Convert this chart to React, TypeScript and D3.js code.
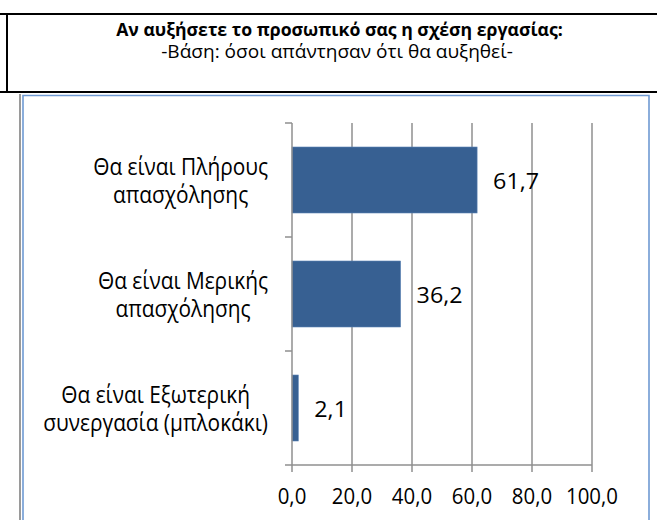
import React, { useEffect, useRef } from "react";
import * as d3 from "d3";

const title = "Αν αυξήσετε το προσωπικό σας η σχέση εργασίας:";
const subtitle = "-Βάση: όσοι απάντησαν ότι θα αυξηθεί-";
const categories: string[][] = [
  ["Θα είναι Πλήρους", "απασχόλησης"],
  ["Θα είναι Μερικής", "απασχόλησης"],
  ["Θα είναι Εξωτερική", "συνεργασία (μπλοκάκι)"],
];
const values: number[] = [61.7, 36.2, 2.1];
const xTicks: number[] = [0, 20, 40, 60, 80, 100];

const W = 657;
const H = 520;
const FONT = "'Open Sans', 'Noto Sans', 'DejaVu Sans', sans-serif";
const fmt = (v: number) => v.toFixed(1).replace(".", ",");

// horizontal scale so that `text` at `size` spans `target` px
function fitScale(svg: any, text: string, weight: string, size: number, target: number): number {
  const t = svg.append("text").attr("font-family", FONT).attr("font-size", size).attr("font-weight", weight).text(text);
  const w = (t.node() as SVGTextElement).getComputedTextLength();
  t.remove();
  return w > 0 ? target / w : 1;
}

function label(parent: any, x: number, y: number, sx: number, text: string, size: number, weight: string, anchor: string) {
  parent.append("g").attr("transform", `translate(${x},${y}) scale(${sx},1)`)
    .append("text").attr("text-anchor", anchor)
    .attr("font-family", FONT).attr("font-size", size).attr("font-weight", weight)
    .attr("fill", "#000").text(text);
}

export default function App() {
  const ref = useRef<SVGSVGElement | null>(null);

  useEffect(() => {
    const svg = d3.select(ref.current);
    svg.selectAll("*").remove();

    // Header frame (black lines)
    svg.append("line").attr("x1", 0).attr("x2", W).attr("y1", 14).attr("y2", 14).attr("stroke", "#000").attr("stroke-width", 2);
    svg.append("line").attr("x1", 0).attr("x2", W).attr("y1", 92).attr("y2", 92).attr("stroke", "#000").attr("stroke-width", 2);
    svg.append("line").attr("x1", 7).attr("x2", 7).attr("y1", 13).attr("y2", 93).attr("stroke", "#000").attr("stroke-width", 2);

    // Chart frame
    svg.append("line").attr("x1", 20).attr("x2", 20).attr("y1", 94).attr("y2", H).attr("stroke", "#9a9a9a").attr("stroke-width", 2);
    svg.append("path")
      .attr("d", `M23,${H} L23,95.5 L649,95.5 L649,${H}`)
      .attr("fill", "none").attr("stroke", "#6f9ad3").attr("stroke-width", 1.6);

    // Titles
    const tS = 18.5;
    label(svg, 339.5, 35.5, fitScale(svg, title, "bold", tS, 447), title, tS, "bold", "middle");
    const sS = 18.5;
    label(svg, 337, 58, fitScale(svg, subtitle, "normal", sS, 352), subtitle, sS, "normal", "middle");

    const x = d3.scaleLinear().domain([0, 100]).range([292, 592]);
    const y = d3.scaleBand<number>().domain(values.map((_, i) => i)).range([123, 465])
      .paddingInner(48 / 114).paddingOuter(24 / 114);
    const step = y.step();
    const [y0, y1] = y.range();

    const grid = "#8f8f8f";
    // Vertical gridlines
    svg.append("g").selectAll("line").data(xTicks.slice(1)).join("line")
      .attr("x1", (d) => x(d)).attr("x2", (d) => x(d)).attr("y1", y0).attr("y2", y1 + 7)
      .attr("stroke", grid).attr("stroke-width", 1.5);

    // Bars
    svg.append("g").selectAll("rect").data(values).join("rect")
      .attr("x", x(0)).attr("y", (_, i) => y(i) as number)
      .attr("width", (d) => x(d) - x(0)).attr("height", y.bandwidth())
      .attr("fill", "#376092").attr("stroke", "#5b83b5").attr("stroke-width", 0.6);

    // Y axis
    svg.append("line").attr("x1", x(0)).attr("x2", x(0)).attr("y1", y0).attr("y2", y1 + 7)
      .attr("stroke", grid).attr("stroke-width", 1.5);
    svg.append("g").selectAll("line").data(d3.range(values.length + 1)).join("line")
      .attr("x1", x(0) - 7).attr("x2", x(0)).attr("y1", (i) => y0 + i * step).attr("y2", (i) => y0 + i * step)
      .attr("stroke", grid).attr("stroke-width", 1.5);
    // X axis
    svg.append("line").attr("x1", x(0)).attr("x2", x(100)).attr("y1", y1).attr("y2", y1)
      .attr("stroke", grid).attr("stroke-width", 1.5);

    // Tick labels
    const tickS = 21;
    const tickSx = fitScale(svg, "100,0", "normal", tickS, 52);
    const tg = svg.append("g");
    xTicks.forEach((d) => label(tg, x(d), 504, tickSx, fmt(d), tickS, "normal", "middle"));

    // Value labels
    const valS = 22.5;
    const valSx = fitScale(svg, "61,7", "normal", valS, 46);
    const vg = svg.append("g");
    values.forEach((d, i) =>
      label(vg, x(d) + 16, (y(i) as number) + y.bandwidth() / 2 + 9, valSx, fmt(d), valS, "normal", "start"));

    // Category labels
    const catS = 23;
    const catSx = fitScale(svg, categories[0][0], "normal", catS, 175);
    categories.forEach((lines, i) => {
      const cy = (y(i) as number) + y.bandwidth() / 2;
      const outer = svg.append("g");
      const g = outer.append("g").attr("transform", `scale(${catSx},1)`);
      const texts = g.selectAll("text").data(lines).join("text")
        .attr("x", 0).attr("y", (_, j) => cy + 9 + (j - (lines.length - 1) / 2) * 28.5)
        .attr("text-anchor", "middle")
        .attr("font-family", FONT).attr("font-size", catS).attr("fill", "#000")
        .text((d) => d);
      let maxW = 0;
      texts.each(function () {
        maxW = Math.max(maxW, (this as SVGTextElement).getComputedTextLength());
      });
      outer.attr("transform", `translate(${268 - (maxW * catSx) / 2},0)`);
    });
  }, []);

  return (
    <svg
      ref={ref}
      width={W}
      height={H}
      style={{ position: "absolute", left: 0, top: 0, background: "#fff" }}
    />
  );
}
